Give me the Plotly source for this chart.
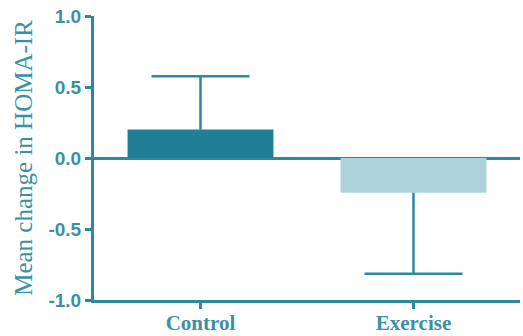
import plotly.graph_objects as go

categories = ["Control", "Exercise"]
means = [0.20, -0.245]
err_up = [0.375, 0.0]
err_down = [0.0, 0.57]
bar_colors = ["#217f95", "#aed2db"]
y_tickvals = [-1.0, -0.5, 0.0, 0.5, 1.0]
y_ticktext = ["-1.0", "-0.5", "0.0", "0.5", "1.0"]

line_color = "#2b8aa0"
text_color = "#3a90a5"

# end points of the one-sided error bars
ends = [m + u - d for m, u, d in zip(means, err_up, err_down)]

fig = go.Figure()
fig.add_trace(go.Bar(
    x=categories,
    y=means,
    width=0.685,
    marker=dict(color=bar_colors, line=dict(width=0)),
))
# stems drawn from the caps back to the bar ends, caps as horizontal line markers
fig.add_trace(go.Scatter(
    x=categories,
    y=ends,
    mode="markers",
    marker=dict(symbol="line-ew", size=70, color=line_color,
                line=dict(color=line_color, width=2.5)),
    error_y=dict(
        type="data",
        symmetric=False,
        array=err_down,
        arrayminus=err_up,
        color=line_color,
        thickness=2.5,
        width=0,
    ),
    hoverinfo="skip",
))

fig.update_layout(
    width=523,
    height=336,
    margin=dict(l=94, r=3, t=16, b=36),
    paper_bgcolor="white",
    plot_bgcolor="white",
    showlegend=False,
    xaxis=dict(
        range=[-0.5, 1.5],
        automargin=False,
        showline=True,
        linecolor=line_color,
        linewidth=3,
        ticks="outside",
        ticklen=6,
        tickwidth=3,
        tickcolor=line_color,
        ticklabelstandoff=-4,
        showgrid=False,
        zeroline=False,
        tickfont=dict(family="Liberation Serif", size=21, color=text_color, weight="bold"),
    ),
    yaxis=dict(
        range=[-1, 1],
        automargin=False,
        tickvals=y_tickvals,
        ticktext=y_ticktext,
        showline=True,
        linecolor=line_color,
        linewidth=3,
        ticks="outside",
        ticklen=6,
        tickwidth=3,
        tickcolor=line_color,
        showgrid=False,
        zeroline=True,
        zerolinecolor=line_color,
        zerolinewidth=3,
        tickfont=dict(family="Liberation Sans", size=19, color=text_color, weight="bold"),
        title=dict(
            text="Mean change in HOMA-IR",
            font=dict(family="Liberation Serif", size=25, color=text_color),
            standoff=9,
        ),
    ),
)

fig.write_html("out.html")
